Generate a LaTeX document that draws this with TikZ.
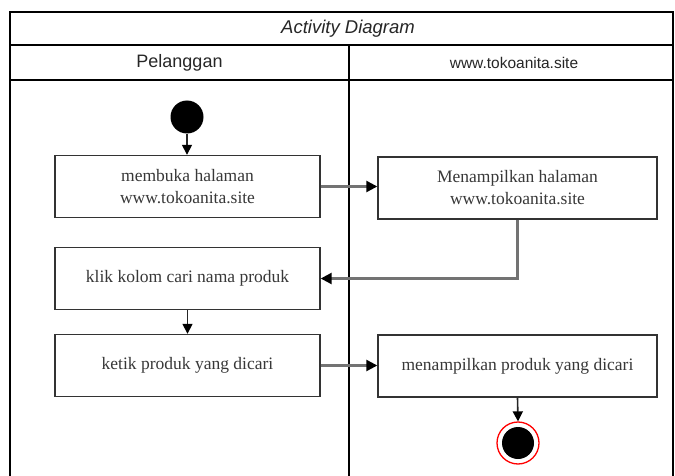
\documentclass[tikz,border=0pt]{standalone}
\usepackage{fontspec}
\setmainfont{Liberation Serif}
\setsansfont{Liberation Sans}
\usetikzlibrary{arrows.meta}
\begin{document}
\begin{tikzpicture}[x=1pt,y=-1pt,
  frame/.style={draw=black,line width=1.5pt},
  action/.style={draw=black!80,line width=1.4pt,fill=white,minimum width=265pt,minimum height=62pt,
    align=center,inner sep=0pt,font=\fontsize{17.5}{22}\selectfont\color{black!78}},
  flow/.style={-{Triangle[length=11pt,width=11pt,color=black]},draw=black!55,line width=2.4pt},
  vflow/.style={-{Triangle[length=10pt,width=10pt,color=black]},draw=black!85,line width=1.6pt},
]
\useasboundingbox (0,0) rectangle (675,476);
% swimlane frame
\path[frame] (10,476) -- (10,12) -- (673,12) -- (673,476);
\path[frame] (10,45) -- (673,45);
\path[frame] (10,80) -- (673,80);
\path[frame] (349,45) -- (349,476);
\node[font=\sffamily\itshape\fontsize{18.5}{21}\selectfont,text=black!85] (title) at (348,28.5) {Activity Diagram};
\node[font=\sffamily\fontsize{18}{21}\selectfont,text=black!85] (laneA) at (179.5,62.5) {Pelanggan};
\node[font=\sffamily\fontsize{15.5}{18}\selectfont,text=black!85] (laneB) at (514,63) {www.tokoanita.site};
% start / end
\node[circle,fill=black,minimum size=33pt,inner sep=0pt] (start) at (187,117) {};
\node[circle,draw=red,line width=1.3pt,fill=white,minimum size=42pt,inner sep=0pt] (endo) at (518,443) {};
\node[circle,fill=black,minimum size=32pt,inner sep=0pt] (endi) at (518,443) {};
% actions
\node[action] (open) at (187.5,186.5) {membuka halaman\\www.tokoanita.site};
\node[action,minimum width=279pt] (show) at (517.5,188) {Menampilkan halaman\\www.tokoanita.site};
\node[action] (search) at (187.5,278.5) {klik kolom cari nama produk};
\node[action] (type) at (187.5,365.5) {ketik produk yang dicari};
\node[action,minimum width=279pt] (result) at (517.5,366) {menampilkan produk yang dicari};
% flows
\draw[vflow] (start) -- (open.north -| start);
\draw[flow] (open.east) -- (show.west |- open.east);
\draw[flow] (show.south) |- (search.east);
\draw[vflow] (search.south) -- (type.north);
\draw[flow] (type.east) -- (result.west |- type.east);
\draw[vflow] (result.south) -- (endo.north);
\end{tikzpicture}
\end{document}
